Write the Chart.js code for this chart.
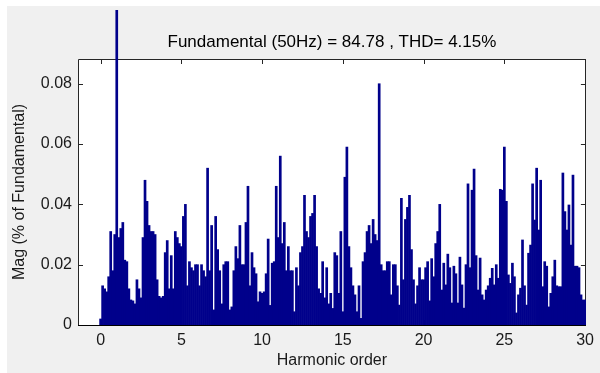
<!DOCTYPE html>
<html lang="en">
<head>
<meta charset="UTF-8">
<style>
body {
    margin: 0;
    background: #ffffff;
}
#wrap {
    position: absolute;
    left: 7px;
    top: 6px;
    width: 593px;
    height: 367px;
}
</style>
</head>
<body>
<div id="wrap"><canvas id="fft" width="593" height="367"></canvas></div>
<script src="https://cdn.jsdelivr.net/npm/chart.js"></script>
<script>
// FFT spectrum, 8 bins per harmonic (one row per harmonic order)
const binsPerHarmonic = 8;
const magnitude = [
    0.002, 0.013, 0.012, 0.011, 0.016, 0.031, 0.018, 0.030,
    1.0, 0.029, 0.032, 0.034, 0.0215, 0.021, 0.012, 0.0083,
    0.008, 0.007, 0.015, 0.012, 0.009, 0.029, 0.048, 0.041,
    0.033, 0.031, 0.031, 0.030, 0.015, 0.0095, 0.009, 0.0095,
    0.024, 0.028, 0.012, 0.023, 0.012, 0.031, 0.029, 0.027,
    0.026, 0.036, 0.040, 0.013, 0.021, 0.019, 0.018, 0.020,
    0.020, 0.013, 0.020, 0.018, 0.016, 0.052, 0.018, 0.033,
    0.005, 0.036, 0.025, 0.018, 0.007, 0.020, 0.021, 0.021,
    0.005, 0.006, 0.018, 0.026, 0.022, 0.033, 0.020, 0.020,
    0.034, 0.046, 0.013, 0.024, 0.019, 0.017, 0.0077, 0.011,
    0.0105, 0.011, 0.017, 0.0285, 0.0065, 0.0205, 0.021, 0.046,
    0.029, 0.056, 0.027, 0.034, 0.018, 0.026, 0.018, 0.018,
    0.0044, 0.019, 0.013, 0.024, 0.026, 0.043, 0.031, 0.029,
    0.036, 0.037, 0.043, 0.026, 0.012, 0.0105, 0.021, 0.009,
    0.019, 0.007, 0.0105, 0.0055, 0.024, 0.023, 0.0105, 0.031,
    0.0044, 0.049, 0.059, 0.026, 0.019, 0.013, 0.010, 0.0044,
    0.013, 0.0022, 0.021, 0.024, 0.031, 0.033, 0.027, 0.035,
    0.030, 0.028, 0.080, 0.020, 0.018, 0.018, 0.021, 0.021,
    0.010, 0.020, 0.020, 0.013, 0.0066, 0.042, 0.015, 0.035,
    0.039, 0.043, 0.025, 0.015, 0.007, 0.013, 0.019, 0.015,
    0.015, 0.019, 0.021, 0.008, 0.022, 0.016, 0.027, 0.031,
    0.040, 0.0116, 0.0205, 0.0133, 0.0235, 0.019, 0.0073, 0.0195,
    0.017, 0.0073, 0.0225, 0.0133, 0.0056, 0.020, 0.0468, 0.019,
    0.0447, 0.0517, 0.023, 0.0116, 0.0222, 0.010, 0.0083, 0.0116,
    0.013, 0.0155, 0.0188, 0.0133, 0.020, 0.0155, 0.045, 0.0447,
    0.059, 0.041, 0.0166, 0.0138, 0.0205, 0.016, 0.004, 0.010,
    0.0122, 0.0282, 0.013, 0.0066, 0.0238, 0.0265, 0.0468, 0.0348,
    0.052, 0.0315, 0.048, 0.0127, 0.021, 0.0195, 0.006, 0.0105,
    0.016, 0.0215, 0.013, 0.0127, 0.0127, 0.0504, 0.0376, 0.0315,
    0.0398, 0.0265, 0.0497, 0.0195, 0.0195, 0.019, 0.010, 0.0083,
    0.0083
];
const xTicks = [0, 5, 10, 15, 20, 25, 30];
const yTicks = [0, 0.02, 0.04, 0.06, 0.08];
const chartTitle = 'Fundamental (50Hz) = 84.78 , THD= 4.15%';
const xTitle = 'Harmonic order';
const yTitle = 'Mag (% of Fundamental)';

const fontFamily = '"Liberation Sans", Arial, sans-serif';
const axisColor = '#262626';

const points = magnitude.map((v, i) => ({ x: i / binsPerHarmonic, y: v }));

// grey figure, white axes, box with inward ticks, title (matlab look)
const matlabFrame = {
    id: 'matlabFrame',
    beforeDraw(chart) {
        const { ctx, chartArea: a } = chart;
        ctx.save();
        ctx.fillStyle = '#f0f0f0';
        ctx.fillRect(0, 0, chart.width, chart.height);
        ctx.fillStyle = '#ffffff';
        ctx.fillRect(a.left, a.top, a.right - a.left, a.bottom - a.top);
        ctx.restore();
    },
    beforeDatasetsDraw(chart) {
        const { ctx, chartArea: a, scales } = chart;
        ctx.save();
        ctx.strokeStyle = axisColor;
        ctx.lineWidth = 1;
        ctx.beginPath();
        ctx.rect(Math.round(a.left) + 0.5, Math.round(a.top) + 0.5,
                 Math.round(a.right - a.left) - 1, Math.round(a.bottom - a.top));
        xTicks.forEach(v => {
            const px = Math.round(scales.x.getPixelForValue(v)) + 0.5;
            ctx.moveTo(px, a.top);
            ctx.lineTo(px, a.top + 5);
            ctx.moveTo(px, a.bottom);
            ctx.lineTo(px, a.bottom - 5);
        });
        yTicks.forEach(v => {
            const py = Math.round(scales.y.getPixelForValue(v)) + 0.5;
            ctx.moveTo(a.left, py);
            ctx.lineTo(a.left + 5, py);
            ctx.moveTo(a.right, py);
            ctx.lineTo(a.right - 5, py);
        });
        ctx.stroke();
        ctx.restore();
    },
    afterDatasetsDraw(chart) {
        const { ctx, chartArea: a } = chart;
        ctx.save();
        ctx.strokeStyle = '#000000';
        ctx.lineWidth = 1;
        ctx.beginPath();
        ctx.moveTo(a.left, Math.round(a.bottom) + 0.5);
        ctx.lineTo(a.right, Math.round(a.bottom) + 0.5);
        ctx.stroke();
        ctx.fillStyle = '#000000';
        ctx.font = '17px ' + fontFamily;
        ctx.textAlign = 'center';
        ctx.textBaseline = 'middle';
        ctx.fillText(chartTitle, (a.left + a.right) / 2, 36);
        ctx.restore();
    }
};

new Chart(document.getElementById('fft'), {
    type: 'bar',
    data: {
        datasets: [{
            data: points,
            backgroundColor: '#00008b',
            borderWidth: 0,
            barPercentage: 1.0,
            categoryPercentage: 1.0,
            clip: { left: 0, top: 49, right: 0, bottom: 0 }
        }]
    },
    options: {
        responsive: false,
        animation: false,
        layout: {
            padding: { top: 53, right: 9, left: 0, bottom: 0 }
        },
        plugins: {
            legend: { display: false },
            tooltip: { enabled: false },
            title: { display: false }
        },
        scales: {
            x: {
                type: 'linear',
                min: -1.4,
                max: 30.05,
                offset: false,
                grid: { display: false, drawTicks: false },
                border: { display: false },
                afterBuildTicks: s => { s.ticks = xTicks.map(v => ({ value: v })); },
                afterFit: s => { s.height = 48; },
                ticks: {
                    padding: 6,
                    color: '#1a1a1a',
                    font: { family: fontFamily, size: 16 },
                    maxRotation: 0,
                    callback: v => String(v)
                },
                title: {
                    display: true,
                    text: xTitle,
                    color: '#1a1a1a',
                    font: { family: fontFamily, size: 16 },
                    padding: { top: 0, bottom: 3 }
                }
            },
            y: {
                min: 0,
                max: 0.0882,
                grid: { display: false, drawTicks: false },
                border: { display: false },
                afterBuildTicks: s => { s.ticks = yTicks.map(v => ({ value: v })); },
                afterFit: s => { s.width = 71; },
                ticks: {
                    padding: 6,
                    color: '#1a1a1a',
                    font: { family: fontFamily, size: 16 },
                    callback: v => (v === 0 ? '0' : v.toFixed(2))
                },
                title: {
                    display: true,
                    text: yTitle,
                    color: '#1a1a1a',
                    font: { family: fontFamily, size: 16 },
                    padding: { top: 3, bottom: 0 }
                }
            }
        }
    },
    plugins: [matlabFrame]
});
</script>
</body>
</html>
